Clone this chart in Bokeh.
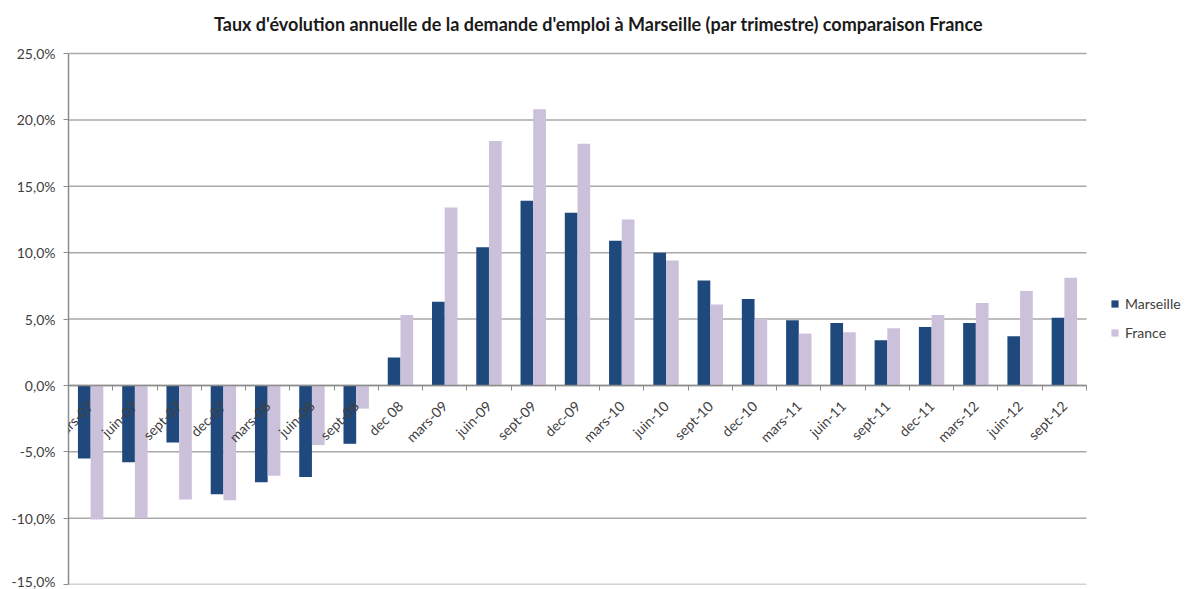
import numpy as np
from math import pi
from bokeh.plotting import figure
from bokeh.models import (ColumnDataSource, Range1d, LinearAxis, FixedTicker, Legend, LegendItem,
                          LabelSet, Label)
from bokeh.core.properties import value
from bokeh.transform import dodge
from bokeh.embed import file_html
from bokeh.resources import INLINE

# ---- data ----
categories = ["mars-07", "juin-07", "sept-07", "dec-07", "mars-08", "juin-08", "sept-08",
              "dec 08", "mars-09", "juin-09", "sept-09", "dec-09", "mars-10", "juin-10",
              "sept-10", "dec-10", "mars-11", "juin-11", "sept-11", "dec-11", "mars-12",
              "juin-12", "sept-12"]
marseille = [-5.5, -5.8, -4.3, -8.2, -7.3, -6.9, -4.4, 2.1, 6.3, 10.4, 13.9, 13.0, 10.9,
             10.0, 7.9, 6.5, 4.9, 4.7, 3.4, 4.4, 4.7, 3.7, 5.1]
france = [-10.1, -10.0, -8.6, -8.65, -6.8, -4.5, -1.75, 5.3, 13.4, 18.4, 20.8, 18.2, 12.5,
          9.4, 6.1, 5.0, 3.9, 4.0, 4.3, 5.3, 6.2, 7.1, 8.1]
series_names = ["Marseille", "France"]
y_ticks = [-15, -10, -5, 0, 5, 10, 15, 20, 25]
y_tick_labels = ["-15,0%", "-10,0%", "-5,0%", "0,0%", "5,0%", "10,0%", "15,0%", "20,0%", "25,0%"]
title_text = "Taux d'évolution annuelle de la demande d'emploi à Marseille (par trimestre) comparaison France"

# ---- styles / layout ----
C_MARS = "#1F497D"
C_FRA = "#CCC1DA"
GRID = "#A9A9A9"
AXIS = "#8C8C8C"
TXT = "#404040"
FONT = "Lato"
W, H = 1185, 589
LEFT, TOP, BOTTOM = 68, 53, 5
PLOT_W = 1018          # px width of the category area (the rest on the right holds the legend)
Y_MIN, Y_MAX = y_ticks[0], y_ticks[-1]

n = len(categories)
frame_w = W - LEFT
frame_h = H - BOTTOM            # frame also covers the title band at the top
plot_h = frame_h - TOP          # px height of the value area
x_end = n * frame_w / PLOT_W
y_end = Y_MAX + (Y_MAX - Y_MIN) * TOP / plot_h

src = ColumnDataSource(dict(
    x=np.arange(n) + 0.5,
    cat=categories,
    m=marseille,
    f=france,
))

p = figure(width=W, height=H, x_range=Range1d(0, x_end), y_range=Range1d(Y_MIN, y_end),
           output_backend="svg", toolbar_location=None, x_axis_location=None,
           min_border_left=LEFT, min_border_right=0, min_border_top=0, min_border_bottom=BOTTOM)
p.outline_line_color = None
p.background_fill_color = "white"
p.border_fill_color = "white"
p.xgrid.grid_line_color = None
p.ygrid.grid_line_color = None

# y axis
ya = p.yaxis[0]
ya.ticker = FixedTicker(ticks=y_ticks)
ya.bounds = (Y_MIN, Y_MAX)
ya.major_label_overrides = {t: l for t, l in zip(y_ticks, y_tick_labels)}
ya.major_tick_out = 5
ya.major_tick_in = 0
ya.minor_tick_line_color = None
ya.axis_line_color = AXIS
ya.axis_line_width = 1.5
ya.major_tick_line_color = AXIS
ya.major_label_text_font = FONT
ya.major_label_text_font_size = "14px"
ya.major_label_text_color = TXT
ya.major_label_standoff = 8

# horizontal grid lines limited to the category area
grid_src = ColumnDataSource(dict(y=y_ticks, x0=[0] * len(y_ticks), x1=[n] * len(y_ticks)))
p.segment(x0="x0", x1="x1", y0="y", y1="y", source=grid_src, line_color=GRID,
          line_width=1.5, level="underlay")

# category boundary ticks on the zero line
bounds_ticks = list(range(n + 1))
xa = LinearAxis(ticker=FixedTicker(ticks=bounds_ticks), fixed_location=0, bounds=(0, n),
                major_label_overrides={t: "" for t in bounds_ticks}, major_label_standoff=0,
                major_tick_out=5, major_tick_in=0, minor_tick_line_color=None,
                axis_line_color=AXIS, axis_line_width=1.5, major_tick_line_color=AXIS)
p.add_layout(xa, "below")

bw = 0.287
r1 = p.vbar(x=dodge("x", -bw / 2, range=p.x_range), top="m", width=bw, source=src,
            fill_color=C_MARS, line_color=None)
r2 = p.vbar(x=dodge("x", bw / 2, range=p.x_range), top="f", width=bw, source=src,
            fill_color=C_FRA, line_color=None)

# rotated category labels sitting on the zero line
cat_labels = LabelSet(x="x", y=0, text="cat", source=src, angle=pi / 4, text_align="right",
                      text_baseline="middle", x_offset=0, y_offset=-18, text_font=value(FONT),
                      text_font_size=value("14px"), text_color=value(TXT), level="overlay")
p.add_layout(cat_labels)

legend = Legend(items=[LegendItem(label=series_names[0], renderers=[r1]),
                       LegendItem(label=series_names[1], renderers=[r2])],
                location=(1042, 243), border_line_color=None, background_fill_alpha=0,
                label_text_font=FONT, label_text_font_size="14px", label_text_color=TXT,
                glyph_width=9, glyph_height=9, spacing=12, padding=0, margin=0,
                label_standoff=6)
p.add_layout(legend)

title = Label(x=598 - LEFT, y=frame_h - 23, x_units="screen", y_units="screen",
              text=title_text, text_align="center", text_baseline="middle", text_font=FONT,
              text_font_size="18px", text_font_style="bold", text_color="#1a1a1a")
p.add_layout(title)

open("out.html", "w").write(file_html(p, INLINE))
